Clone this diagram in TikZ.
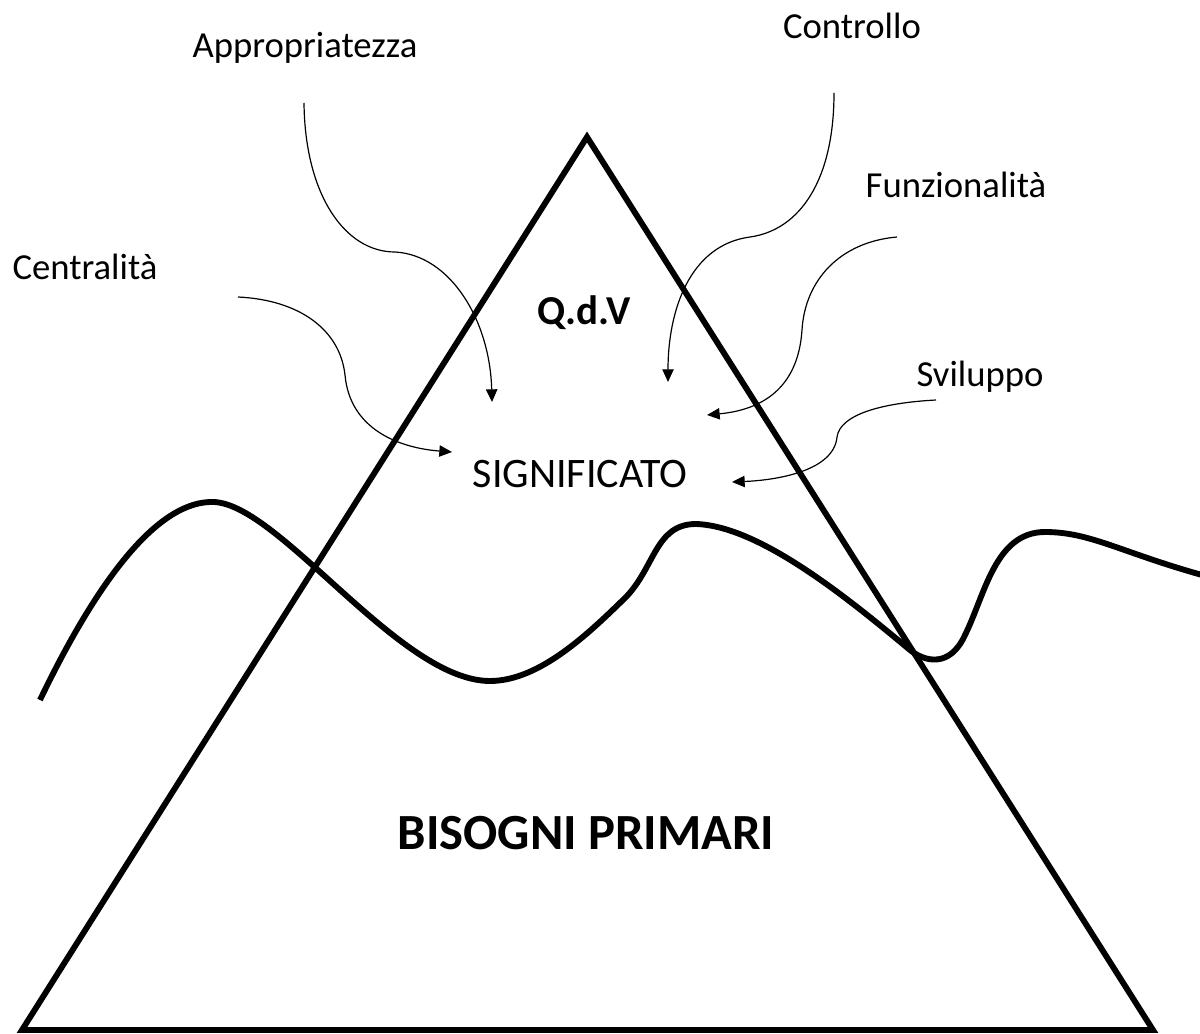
\documentclass[tikz,border=0pt]{standalone}
\usepackage{fontspec}
\setmainfont{Carlito}
\usetikzlibrary{arrows.meta}
\tikzset{
  thick line/.style={line width=4.4pt, line join=miter},
  wave line/.style={line width=4.4pt, line cap=butt, line join=round},
  thin arrow/.style={line width=0.9pt, -{Triangle[length=9.5pt,width=8.5pt]}},
  lbl/.style={anchor=base, inner sep=0pt, font=\fontsize{27.5}{33}\selectfont},
  mid/.style={anchor=base, inner sep=0pt, font=\fontsize{31.5}{38}\selectfont},
  midb/.style={anchor=base, inner sep=0pt, font=\fontsize{30.8}{37}\selectfont\bfseries},
  big/.style={anchor=base, inner sep=0pt, font=\fontsize{38}{46}\selectfont\bfseries},
}
\begin{document}
\begin{tikzpicture}[x=0.75pt,y=-0.75pt]
\useasboundingbox (0,0) rectangle (1200,1034);
% triangle
\coordinate (apex) at (587,137);
\coordinate (bl) at (22,1030);
\coordinate (br) at (1153,1030);
\draw[thick line] (bl) -- (apex) -- (br) -- cycle;
% wave
\coordinate (w0) at (40,700);
\coordinate (w1) at (1202,575);
\draw[wave line] (w0) .. controls (100,575) and (160,500) .. (214,502)
  .. controls (280,505) and (400,681) .. (490,681)
  .. controls (540,681) and (590,632) .. (625,598)
  .. controls (655,568) and (655,524) .. (696,524)
  .. controls (760,526) and (850,600) .. (910,650)
  .. controls (925,662) and (950,668) .. (965,635)
  .. controls (985,595) and (995,532) .. (1045,532)
  .. controls (1090,532) and (1120,552) .. (w1);
% labels
\node[lbl] (appr) at (305,58) {Appropriatezza};
\node[lbl] (contr) at (852,39) {Controllo};
\node[lbl] (funz) at (956,198) {Funzionalità};
\node[lbl] (centr) at (85,280) {Centralità};
\node[lbl] (svil) at (980,387) {Sviluppo};
\node[midb] (qdv) at (584,325) {Q.d.V};
\node[mid] (sign) at (580,487) {SIGNIFICATO};
\node[big] (bis) at (586,849) {BISOGNI PRIMARI};
% arrow ends
\coordinate (a0) at (304,103); \coordinate (a1) at (492,402);
\coordinate (c0) at (238,297); \coordinate (c1) at (452,452);
\coordinate (k0) at (834,93);  \coordinate (k1) at (668,382);
\coordinate (f0) at (897,237); \coordinate (f1) at (707,415);
\coordinate (s0) at (936,400); \coordinate (s1) at (732,482);
\draw[thin arrow] (a0) .. controls (305,195) and (345,252) .. (395,252)
  .. controls (450,255) and (490,320) .. (a1);
\draw[thin arrow] (c0) .. controls (300,300) and (340,330) .. (345,375)
  .. controls (350,430) and (400,448) .. (c1);
\draw[thin arrow] (k0) .. controls (834,180) and (800,230) .. (750,237)
  .. controls (690,245) and (668,310) .. (k1);
\draw[thin arrow] (f0) .. controls (840,242) and (805,280) .. (802,330)
  .. controls (798,390) and (760,410) .. (f1);
\draw[thin arrow] (s0) .. controls (880,403) and (840,415) .. (837,437)
  .. controls (834,470) and (780,480) .. (s1);
\end{tikzpicture}
\end{document}
